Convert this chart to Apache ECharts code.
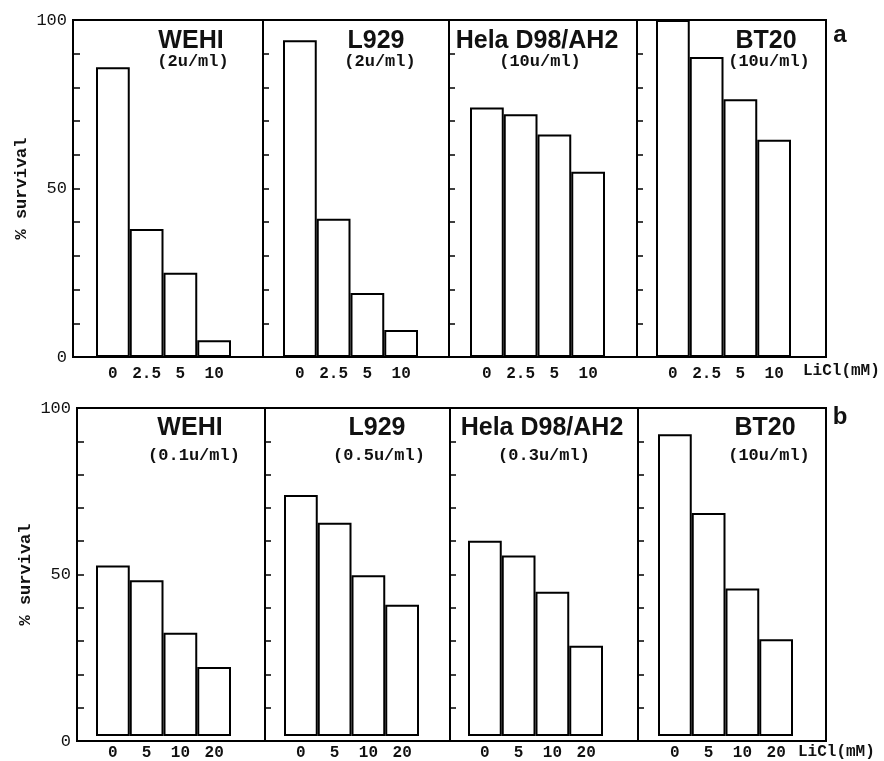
<!DOCTYPE html>
<html>
<head>
<meta charset="utf-8">
<script src="https://cdn.jsdelivr.net/npm/echarts@6/dist/echarts.min.js"></script>
<style>html,body{margin:0;padding:0;background:#fff;}#c{width:884px;height:761px;}</style>
</head>
<body>
<div id="c"></div>
<script>
// ---- data ----
const topDoses = ['0', '2.5', '5', '10'];
const bottomDoses = ['0', '5', '10', '20'];
const cellLines = ['WEHI', 'L929', 'Hela D98/AH2', 'BT20'];
const topConc = ['(2u/ml)', '(2u/ml)', '(10u/ml)', '(10u/ml)'];
const bottomConc = ['(0.1u/ml)', '(0.5u/ml)', '(0.3u/ml)', '(10u/ml)'];
const topWEHI = [86, 38, 25, 5];
const topL929 = [94, 41, 19, 8];
const topHela = [74, 72, 66, 55];
const topBT20 = [100, 89, 76.5, 64.5];
const botWEHI = [52, 47.5, 31.5, 21];
const botL929 = [73.5, 65, 49, 40];
const botHela = [59.5, 55, 44, 27.5];
const botBT20 = [92, 68, 45, 29.5];
const yTickLabels = [0, 50, 100];
const yAxisName = '% survival';
const xUnit = 'LiCl(mM)';
const rowLetters = ['a', 'b'];

// ---- layout ----
const rows = [
  { doses: topDoses, conc: topConc, values: [topWEHI, topL929, topHela, topBT20],
    panelLeft: [73, 263, 449, 637], right: 826, top: 20, height: 337,
    barLeft: [96, 283, 470, 656], barWidth: 135,
    titleX: [191, 376, 537, 766], titleY: 41, subX: [193, 380, 540, 769], subY: 62,
    letterY: 35, unitX: 803, unitY: 371 },
  { doses: bottomDoses, conc: bottomConc, values: [botWEHI, botL929, botHela, botBT20],
    panelLeft: [77, 265, 450, 638], right: 826, top: 408, height: 333,
    barLeft: [96, 284, 468, 658], barWidth: 135,
    titleX: [190, 377, 542, 765], titleY: 428, subX: [194, 379, 544, 769], subY: 456,
    letterY: 417, unitX: 798, unitY: 752 }
];

const MONO = "'Liberation Mono', 'DejaVu Sans Mono', monospace";
const SANS = "'Liberation Sans', Arial, sans-serif";

const grid = [], xAxis = [], yAxis = [], series = [], graphic = [];

// frame grids
rows.forEach((r, ri) => {
  for (let p = 0; p < 4; p++) {
    const left = r.panelLeft[p];
    const right = p < 3 ? r.panelLeft[p + 1] : r.right;
    const gi = grid.length;
    grid.push({ left: left, top: r.top, width: right - left, height: r.height,
      show: true, borderColor: '#000', borderWidth: 2, backgroundColor: 'transparent' });
    xAxis.push({ gridIndex: gi, type: 'value', min: 0, max: 1, show: false });
    const first = p === 0;
    yAxis.push({
      gridIndex: gi, type: 'value', min: 0, max: 100, interval: 10,
      axisLine: { show: false },
      axisTick: { show: true, inside: true, length: first ? 7 : 6, lineStyle: { color: '#000', width: 1.5 } },
      splitLine: { show: false },
      axisLabel: {
        show: first, margin: 6, color: '#111', fontFamily: MONO, fontSize: 17,
        formatter: v => (yTickLabels.indexOf(v) >= 0 ? String(v) : '')
      },
      name: first ? yAxisName : '', nameLocation: 'middle', nameGap: 43, nameRotate: 90,
      nameTextStyle: { fontFamily: MONO, fontSize: 17, fontWeight: 'bold', color: '#111' }
    });
  }
});

// bar grids
rows.forEach((r, ri) => {
  for (let p = 0; p < 4; p++) {
    const gi = grid.length;
    grid.push({ left: r.barLeft[p], top: r.top, width: r.barWidth, height: r.height });
    xAxis.push({
      gridIndex: gi, type: 'category', data: r.doses,
      axisLine: { show: false }, axisTick: { show: false },
      axisLabel: { interval: 0, hideOverlap: false, margin: 9, color: '#111', fontFamily: MONO, fontSize: 16, fontWeight: 'bold' }
    });
    yAxis.push({ gridIndex: gi, type: 'value', min: 0, max: 100, show: false });
    series.push({
      type: 'bar', xAxisIndex: gi, yAxisIndex: gi, data: r.values[p],
      barCategoryGap: '0%', silent: true,
      itemStyle: { color: '#fff', borderColor: '#000', borderWidth: 2 }
    });
    graphic.push({ type: 'text', silent: true, style: {
      text: cellLines[p], x: r.titleX[p], y: r.titleY, align: 'center', verticalAlign: 'middle',
      font: 'bold 25px ' + SANS, fill: '#111' } });
    graphic.push({ type: 'text', silent: true, style: {
      text: r.conc[p], x: r.subX[p], y: r.subY, align: 'center', verticalAlign: 'middle',
      font: 'bold 17px ' + MONO, fill: '#111' } });
  }
  graphic.push({ type: 'text', silent: true, style: {
    text: rowLetters[ri], x: 840, y: r.letterY, align: 'center', verticalAlign: 'middle',
    font: 'bold 24px ' + SANS, fill: '#111' } });
  graphic.push({ type: 'text', silent: true, style: {
    text: xUnit, x: r.unitX, y: r.unitY, align: 'left', verticalAlign: 'middle',
    font: 'bold 16px ' + MONO, fill: '#111' } });
});

const chart = echarts.init(document.getElementById('c'), null, { renderer: 'canvas' });
chart.setOption({
  animation: false,
  backgroundColor: '#fff',
  grid, xAxis, yAxis, series, graphic
});
</script>
</body>
</html>
